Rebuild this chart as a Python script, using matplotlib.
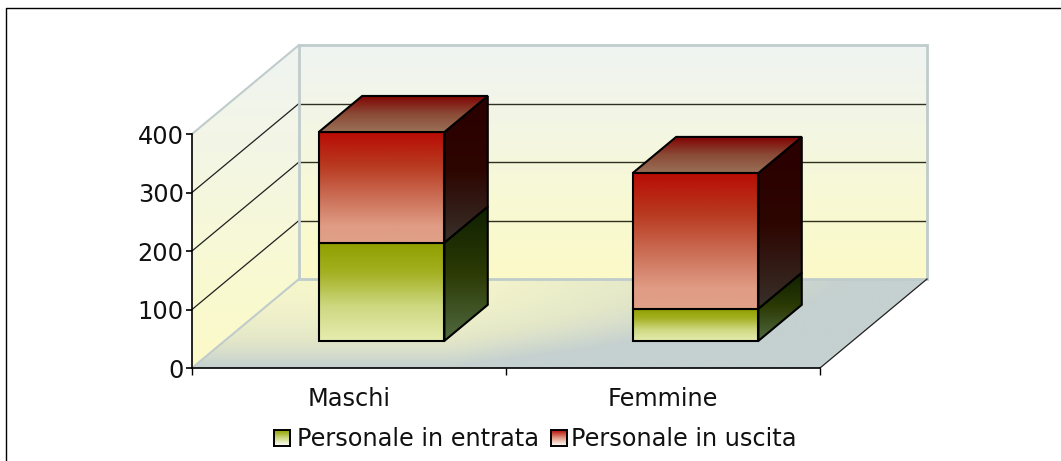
import numpy as np
import matplotlib
matplotlib.use("Agg")
import matplotlib.pyplot as plt
from matplotlib.colors import LinearSegmentedColormap
from matplotlib.patches import Polygon

categories = ["Maschi", "Femmine"]
series_names = ["Personale in entrata", "Personale in uscita"]
entrata = [168, 55]
uscita = [189, 232]
y_ticks = [0, 100, 200, 300, 400]

plt.rcParams["font.family"] = "DejaVu Sans"
FS = 17.3

W, H = 1061, 461
fig = plt.figure(figsize=(W / 100, H / 100), dpi=100, facecolor="white")
ax = fig.add_axes([192 / W, (H - 368) / H, 628 / W, 234 / H], facecolor="none")
ax.set_xlim(0, len(categories))
ax.set_ylim(0, 400)

# profondita' della vista 3D, in unita' degli assi
DX = 107 / 314
DY = 89 / 0.585
WALL_EDGE = "#c0cccc"


def proj(x, v, d):
    return x + d * DX, v + d * DY


def gradient(verts, stops, t=None):
    verts = np.array(verts)
    cmap = LinearSegmentedColormap.from_list("g", stops)
    if t is None:
        t = np.linspace(0, 1, 128).reshape(-1, 1)
    extent = [verts[:, 0].min(), verts[:, 0].max(), verts[:, 1].min(), verts[:, 1].max()]
    im = ax.imshow(t, cmap=cmap, vmin=0, vmax=1, extent=extent, aspect="auto",
                   origin="upper", interpolation="bilinear", zorder=1)
    im.set_clip_box(fig.bbox)
    im.set_clip_path(Polygon(verts, transform=ax.transData))


def outline(verts, color="black", lw=1.5):
    ax.add_patch(Polygon(verts, closed=True, fill=False, edgecolor=color, lw=lw,
                         zorder=1, clip_on=False, joinstyle="miter"))


WALL = ["#f0f4f2", "#f3f6e4", "#f8f9d4", "#fcfac8"]
FLOOR = ["#f6f6cc", "#e4e8c8", "#c5d0d0"]
GREEN_FRONT = [(0, "#909f00"), (0.3, "#a3b020"), (0.65, "#cdd880"), (1, "#e6edb0")]
GREEN_SIDE = ["#0f2000", "#2c3a05", "#506a40"]
RED_FRONT = [(0, "#b80c04"), (0.3, "#b83a20"), (0.6, "#cc7058"), (0.85, "#e09c85"), (1, "#e0a088")]
RED_SIDE = [(0, "#2a0000"), (0.5, "#2d0500"), (1, "#38302a")]
RED_TOP = ["#800000", "#8a4a35", "#9a7058"]

nx = len(categories)

# pareti e pavimento
back = [proj(0, 0, 1), proj(nx, 0, 1), proj(nx, 400, 1), proj(0, 400, 1)]
left = [(0, 0), proj(0, 0, 1), proj(0, 400, 1), (0, 400)]
floor = [(0, 0), (nx, 0), proj(nx, 0, 1), proj(0, 0, 1)]

gradient(back, WALL)
gradient(left, WALL)
xf, yf = np.meshgrid(np.linspace(0, 1, 128), np.linspace(0, 1, 64))
gradient(floor, FLOOR, np.clip(yf ** 1.8 + np.clip((192 + 735 * xf - 450) / 400, 0, 1), 0, 1))

for v in y_ticks[1:-1]:
    x0, y0 = proj(0, v, 1)
    x1, y1 = proj(nx, v, 1)
    ax.plot([0, x0], [v, y0], color="#202020", lw=0.9, zorder=1, clip_on=False)
    ax.plot([x0, x1], [y0, y1], color="#303020", lw=1.0, zorder=1, clip_on=False)

outline(back, WALL_EDGE, 2.0)
ax.plot([0, back[0][0]], [0, back[0][1]], color=WALL_EDGE, lw=1.5, zorder=1, clip_on=False)
ax.plot([0, back[3][0]], [400, back[3][1]], color=WALL_EDGE, lw=1.5, zorder=1, clip_on=False)
ax.plot([nx, back[1][0]], [0, back[1][1]], color="#202020", lw=0.9, zorder=1, clip_on=False)

# barre impilate
BAR_W = 0.4
D0, D1 = 0.305, 0.71
for i in range(nx):
    x0, x1 = i + 0.5 - BAR_W / 2, i + 0.5 + BAR_W / 2
    base = 0
    for val, front_c, side_c in [(entrata[i], GREEN_FRONT, GREEN_SIDE), (uscita[i], RED_FRONT, RED_SIDE)]:
        top = base + val
        front = [proj(x0, base, D0), proj(x1, base, D0), proj(x1, top, D0), proj(x0, top, D0)]
        side = [proj(x1, base, D0), proj(x1, base, D1), proj(x1, top, D1), proj(x1, top, D0)]
        gradient(front, front_c)
        gradient(side, side_c)
        outline(front)
        outline(side)
        base = top
    cap = [proj(x0, base, D0), proj(x1, base, D0), proj(x1, base, D1), proj(x0, base, D1)]
    gradient(cap, RED_TOP)
    outline(cap)

ax.set_xlim(0, nx)
ax.set_ylim(0, 400)

# assi
for s in ["top", "right"]:
    ax.spines[s].set_visible(False)
for s in ["left", "bottom"]:
    ax.spines[s].set_linewidth(1.2)
    ax.spines[s].set_zorder(3)
ax.set_yticks(y_ticks)
ax.set_xticks(range(nx + 1))
ax.set_xticklabels([])
ax.set_xticks([i + 0.5 for i in range(nx)], categories, minor=True)
ax.tick_params(axis="y", length=4, width=1.2, pad=2, labelsize=FS, labelcolor="#111111")
ax.tick_params(axis="x", which="major", length=5, width=1)
ax.tick_params(axis="x", which="minor", length=0, pad=14, labelsize=FS, labelcolor="#111111")


# legenda
def swatch(px, stops):
    a = fig.add_axes([px / W, (H - 446) / H, 16 / W, 16 / H])
    cmap = LinearSegmentedColormap.from_list("s", stops)
    a.imshow(np.linspace(0, 1, 32).reshape(-1, 1), cmap=cmap, aspect="auto")
    a.set_xticks([])
    a.set_yticks([])
    for sp in a.spines.values():
        sp.set_linewidth(1.4)


swatch(274, ["#909f00", "#cdd880", "#ffffff"])
swatch(551, ["#b80c04", "#e09c85", "#ffffff"])
fig.text(297 / W, (H - 446) / H, series_names[0], fontsize=FS, color="#111111", va="baseline")
fig.text(571 / W, (H - 446) / H, series_names[1], fontsize=FS, color="#111111", va="baseline")

# cornice
fig.add_artist(plt.Line2D([6.2 / W, 6.2 / W, 1], [0, (H - 8) / H, (H - 8) / H], color="black", lw=1))

fig.savefig("out.png", dpi=100)
